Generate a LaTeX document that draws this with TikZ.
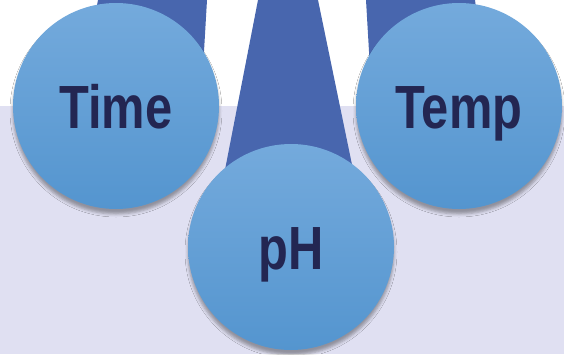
\documentclass[tikz,border=0pt]{standalone}
\usepackage{fontspec}
\newfontfamily\labelfont{Liberation Sans}[FakeStretch=0.8]
\usetikzlibrary{shadows.blur,backgrounds}
\definecolor{lavender}{RGB}{224,224,242}
\definecolor{stemblue}{RGB}{72,102,174}
\definecolor{balltop}{RGB}{116,170,220}
\definecolor{ballbot}{RGB}{84,149,207}
\definecolor{labelnavy}{RGB}{35,38,82}
\tikzset{
  stem/.style={fill=stemblue},
  ball/.style={circle, minimum size=206pt, inner sep=0pt,
    top color=balltop, bottom color=ballbot,
    blur shadow={shadow xshift=0pt, shadow yshift=-5pt, shadow blur radius=3pt, shadow opacity=35},
    text=labelnavy, font=\labelfont\bfseries\fontsize{61}{61}\selectfont,
    text height=44pt, text depth=0pt},
}
\begin{document}
\begin{tikzpicture}[x=1pt,y=-1pt]
\useasboundingbox (0,0) rectangle (564,354);
\coordinate (ltl) at (98,0);
\coordinate (ltr) at (207,0);
\coordinate (mtl) at (258,0);
\coordinate (mtr) at (318,0);
\coordinate (rtl) at (366,0);
\coordinate (rtr) at (475,0);
\node[ball] (time) at (116,106) {Time};
\node[ball] (temp) at (459,106) {Temp};
\node[ball] (ph) at (291,247) {pH};
\begin{scope}[on background layer]
\fill[white] (0,0) rectangle (564,106);
\fill[lavender] (0,106) rectangle (564,354);
\fill[stem] (ltl) -- (ltr) -- (200,120) -- (time.center) -- (90,40) -- cycle;
\fill[stem] (rtl) -- (rtr) -- (480,40) -- (temp.center) -- (373,120) -- cycle;
\fill[stem] (mtl) -- (mtr) -- (369,247) -- (ph.center) -- (210,247) -- cycle;
\end{scope}
\end{tikzpicture}
\end{document}
